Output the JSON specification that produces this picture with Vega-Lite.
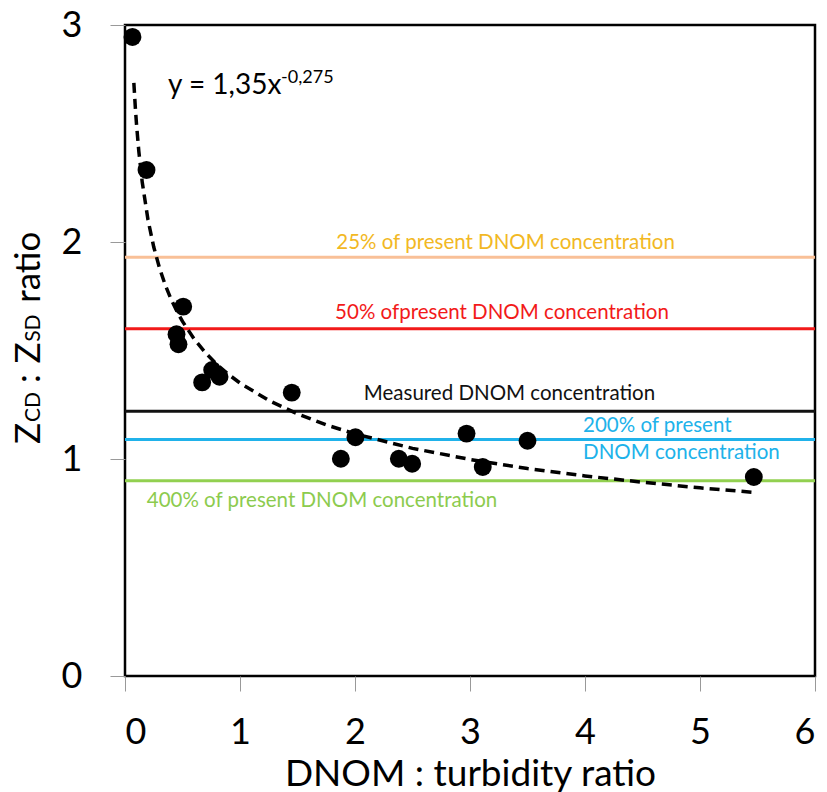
{
  "$schema": "https://vega.github.io/schema/vega-lite/v6.json",
  "autosize": {"type": "none"},
  "padding": {"left": 125, "top": 25, "right": 12, "bottom": 116},
  "width": 690,
  "height": 651,
  "background": "white",
  "config": {
    "font": "Lato",
    "view": {"stroke": "black", "strokeWidth": 2.5},
    "axis": {
      "grid": false,
      "domain": false,
      "labelFont": "Lato",
      "labelFontSize": 36,
      "labelColor": "black",
      "tickColor": "#999999",
      "tickSize": 15,
      "tickWidth": 1,
      "titleFont": "Lato",
      "titleFontWeight": "normal",
      "titleColor": "black"
    }
  },
  "datasets": {
    "one": [{}],
    "points": [
      {"x": 0.065, "y": 2.945},
      {"x": 0.187, "y": 2.332},
      {"x": 0.506, "y": 1.702},
      {"x": 0.448, "y": 1.575},
      {"x": 0.465, "y": 1.529},
      {"x": 0.671, "y": 1.353},
      {"x": 0.758, "y": 1.41},
      {"x": 0.822, "y": 1.379},
      {"x": 1.45, "y": 1.306},
      {"x": 1.877, "y": 1.001},
      {"x": 2.004, "y": 1.1},
      {"x": 2.381, "y": 1.001},
      {"x": 2.497, "y": 0.978},
      {"x": 2.97, "y": 1.117},
      {"x": 3.111, "y": 0.963},
      {"x": 3.5, "y": 1.084},
      {"x": 5.468, "y": 0.917}
    ],
    "fit": [
      {"x": 0.077, "y": 2.733},
      {"x": 0.09, "y": 2.618},
      {"x": 0.1, "y": 2.543},
      {"x": 0.12, "y": 2.419},
      {"x": 0.15, "y": 2.275},
      {"x": 0.2, "y": 2.102},
      {"x": 0.25, "y": 1.977},
      {"x": 0.3, "y": 1.88},
      {"x": 0.35, "y": 1.802},
      {"x": 0.4, "y": 1.737},
      {"x": 0.45, "y": 1.682},
      {"x": 0.5, "y": 1.634},
      {"x": 0.6, "y": 1.554},
      {"x": 0.7, "y": 1.489},
      {"x": 0.8, "y": 1.435},
      {"x": 0.9, "y": 1.39},
      {"x": 1.0, "y": 1.35},
      {"x": 1.25, "y": 1.27},
      {"x": 1.5, "y": 1.208},
      {"x": 1.75, "y": 1.157},
      {"x": 2.0, "y": 1.116},
      {"x": 2.5, "y": 1.049},
      {"x": 3.0, "y": 0.998},
      {"x": 3.5, "y": 0.956},
      {"x": 4.0, "y": 0.922},
      {"x": 4.5, "y": 0.893},
      {"x": 5.0, "y": 0.867},
      {"x": 5.47, "y": 0.846}
    ],
    "levels": [
      {"level": "25%", "y": 1.93},
      {"level": "50%", "y": 1.6},
      {"level": "Measured", "y": 1.22},
      {"level": "200%", "y": 1.09},
      {"level": "400%", "y": 0.9}
    ],
    "labels": [
      {"level": "25%", "anchor": "center", "x": 3.309, "y": 1.968, "text": "25% of present DNOM concentration"},
      {"level": "50%", "anchor": "center", "x": 3.278, "y": 1.645, "text": "50% ofpresent  DNOM concentration"},
      {"level": "Measured", "anchor": "center", "x": 3.343, "y": 1.272, "text": "Measured DNOM concentration"},
      {"level": "200%", "anchor": "left", "x": 3.983, "y": 1.124, "text": "200% of present"},
      {"level": "200%", "anchor": "left", "x": 3.983, "y": 1.0, "text": "DNOM concentration"},
      {"level": "400%", "anchor": "left", "x": 0.189, "y": 0.779, "text": "400% of present DNOM concentration"}
    ]
  },
  "layer": [
    {
      "data": {"name": "levels"},
      "mark": {"type": "rule", "strokeWidth": 3},
      "encoding": {
        "y": {"field": "y", "type": "quantitative"},
        "color": {
          "field": "level",
          "type": "nominal",
          "scale": {
            "domain": ["25%", "50%", "Measured", "200%", "400%"],
            "range": ["#F9C097", "#F21A1A", "#111111", "#20B2EA", "#92D050"]
          },
          "legend": null
        }
      }
    },
    {
      "data": {"name": "fit"},
      "mark": {"type": "line", "color": "black", "strokeWidth": 3.5, "strokeDash": [10, 6]},
      "encoding": {
        "x": {"field": "x", "type": "quantitative"},
        "y": {"field": "y", "type": "quantitative"}
      }
    },
    {
      "data": {"name": "points"},
      "mark": {"type": "circle", "color": "black", "opacity": 1, "size": 320},
      "encoding": {
        "x": {
          "field": "x",
          "type": "quantitative",
          "scale": {"domain": [0, 6], "nice": false, "zero": true},
          "axis": {
            "values": [0, 1, 2, 3, 4, 5, 6],
            "format": "d",
            "labelBaseline": "alphabetic",
            "labelPadding": 52,
            "title": "DNOM : turbidity ratio",
            "titleFontSize": 37,
            "titleBaseline": "alphabetic",
            "titleY": 109
          }
        },
        "y": {
          "field": "y",
          "type": "quantitative",
          "scale": {"domain": [0, 3], "nice": false},
          "axis": {"values": [0, 1, 2, 3], "format": "d", "labelPadding": 28, "title": null}
        }
      }
    },
    {
      "data": {"name": "labels"},
      "transform": [{"filter": "datum.anchor == 'center'"}],
      "mark": {"type": "text", "align": "center", "baseline": "alphabetic", "fontSize": 20.5, "font": "Lato"},
      "encoding": {
        "x": {"field": "x", "type": "quantitative"},
        "y": {"field": "y", "type": "quantitative"},
        "text": {"field": "text"},
        "color": {
          "field": "level",
          "type": "nominal",
          "scale": {
            "domain": ["25%", "50%", "Measured", "200%", "400%"],
            "range": ["#F2B824", "#F21A1A", "#111111", "#20B2EA", "#8CCB4E"]
          },
          "legend": null
        }
      }
    },
    {
      "data": {"name": "labels"},
      "transform": [{"filter": "datum.anchor == 'left'"}],
      "mark": {"type": "text", "align": "left", "baseline": "alphabetic", "fontSize": 20.5, "font": "Lato"},
      "encoding": {
        "x": {"field": "x", "type": "quantitative"},
        "y": {"field": "y", "type": "quantitative"},
        "text": {"field": "text"},
        "color": {
          "field": "level",
          "type": "nominal",
          "scale": {
            "domain": ["25%", "50%", "Measured", "200%", "400%"],
            "range": ["#F2B824", "#F21A1A", "#111111", "#20B2EA", "#8CCB4E"]
          },
          "legend": null
        }
      }
    },
    {
      "data": {"name": "one"},
      "mark": {"type": "text", "text": "y = 1,35x", "align": "left", "baseline": "alphabetic", "fontSize": 28, "color": "black"},
      "encoding": {"x": {"datum": 0.374}, "y": {"datum": 2.682}}
    },
    {
      "data": {"name": "one"},
      "mark": {"type": "text", "text": "-0,275", "align": "left", "baseline": "alphabetic", "fontSize": 18, "color": "black"},
      "encoding": {"x": {"datum": 1.357}, "y": {"datum": 2.733}}
    },
    {
      "data": {"name": "one"},
      "mark": {"type": "text", "text": "Z", "angle": 270, "align": "left", "baseline": "alphabetic", "fontSize": 35, "color": "black"},
      "encoding": {"x": {"datum": -0.743}, "y": {"datum": 1.069}}
    },
    {
      "data": {"name": "one"},
      "mark": {"type": "text", "text": "CD", "angle": 270, "align": "left", "baseline": "alphabetic", "fontSize": 21, "color": "black"},
      "encoding": {"x": {"datum": -0.735}, "y": {"datum": 1.17}}
    },
    {
      "data": {"name": "one"},
      "mark": {"type": "text", "text": ":", "angle": 270, "align": "center", "baseline": "alphabetic", "fontSize": 35, "color": "black"},
      "encoding": {"x": {"datum": -0.743}, "y": {"datum": 1.37}}
    },
    {
      "data": {"name": "one"},
      "mark": {"type": "text", "text": "Z", "angle": 270, "align": "left", "baseline": "alphabetic", "fontSize": 35, "color": "black"},
      "encoding": {"x": {"datum": -0.743}, "y": {"datum": 1.44}}
    },
    {
      "data": {"name": "one"},
      "mark": {"type": "text", "text": "SD", "angle": 270, "align": "left", "baseline": "alphabetic", "fontSize": 21, "color": "black"},
      "encoding": {"x": {"datum": -0.735}, "y": {"datum": 1.54}}
    },
    {
      "data": {"name": "one"},
      "mark": {"type": "text", "text": "ratio", "angle": 270, "align": "left", "baseline": "alphabetic", "fontSize": 35, "color": "black"},
      "encoding": {"x": {"datum": -0.743}, "y": {"datum": 1.72}}
    }
  ],
  "resolve": {"scale": {"color": "independent"}}
}
